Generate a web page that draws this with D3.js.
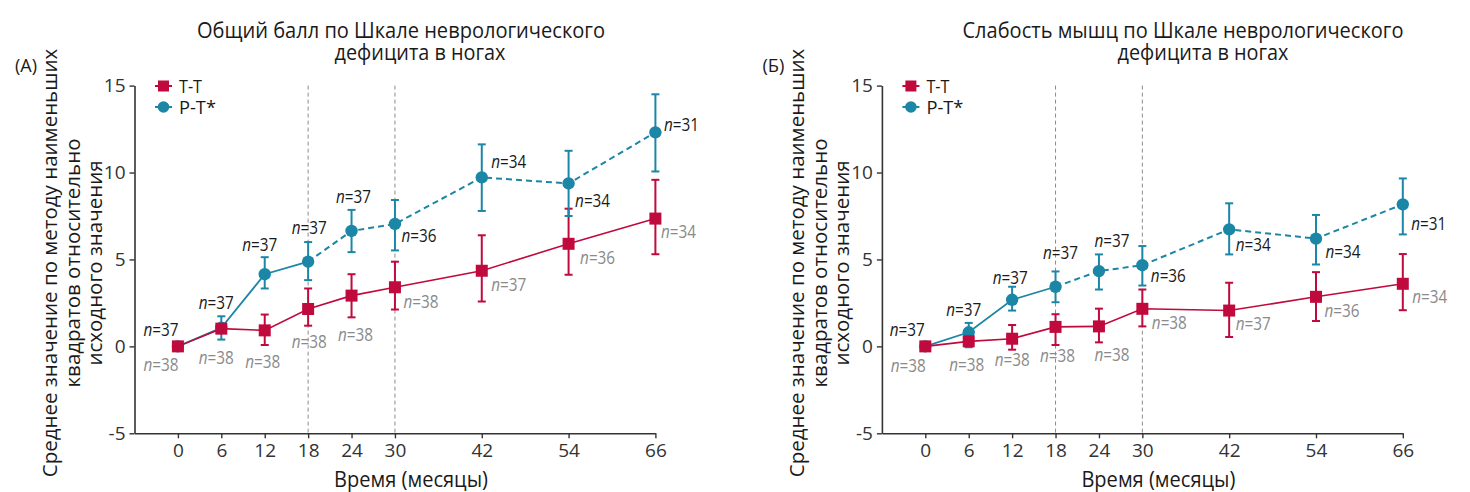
<!DOCTYPE html>
<html><head><meta charset="utf-8">
<script src="https://cdn.jsdelivr.net/npm/d3@7"></script>
<style>body{margin:0;background:#fff} svg{display:block}</style>
</head><body>
<svg id="chart" width="1470" height="492"></svg>
<script>
// ---------------- DATA ----------------
const months = [0, 6, 12, 18, 24, 30, 42, 54, 66];
const xTickValues = [0, 6, 12, 18, 24, 30, 42, 54, 66];
const yTickValues = [-5, 0, 5, 10, 15];
const phaseLines = [18, 30];
const seriesNames = ["T-T", "P-T*"];

// Panel A: Общий балл
const ttA    = [0, 1.02, 0.92, 2.15, 2.92, 3.40, 4.35, 5.90, 7.35];
const ttA_lo = [null, null, 0.08, 1.19, 1.67, 2.12, 2.58, 4.12, 5.30];
const ttA_hi = [null, null, 1.83, 3.33, 4.15, 4.87, 6.39, 7.92, 9.58];
const ptA    = [0, 1.07, 4.15, 4.87, 6.64, 7.04, 9.72, 9.37, 12.31];
const ptA_lo = [null, 0.39, 3.33, 3.81, 5.42, 5.52, 7.79, 7.50, 10.06];
const ptA_hi = [null, 1.73, 5.13, 6.00, 7.85, 8.42, 11.62, 11.25, 14.50];
const nTTA   = [38, 38, 38, 38, 38, 38, 37, 36, 34];
const nPTA   = [37, 37, 37, 37, 37, 36, 34, 34, 31];

// Panel Б: Слабость мышц
const ttB    = [0, 0.29, 0.44, 1.12, 1.15, 2.16, 2.06, 2.85, 3.60];
const ttB_lo = [null, null, -0.19, 0.08, 0.23, 1.15, 0.54, 1.46, 2.08];
const ttB_hi = [null, null, 1.23, 1.85, 2.17, 3.27, 3.66, 4.27, 5.31];
const ptB    = [0, 0.81, 2.68, 3.43, 4.33, 4.67, 6.73, 6.20, 8.17];
const ptB_lo = [null, -0.05, 2.06, 2.54, 3.27, 3.50, 5.29, 4.71, 6.44];
const ptB_hi = [null, 1.35, 3.43, 4.31, 5.29, 5.77, 8.23, 7.56, 9.66];
const nTTB   = [38, 38, 38, 38, 38, 38, 37, 36, 34];
const nPTB   = [37, 37, 37, 37, 37, 36, 34, 34, 31];

const titleA = ["Общий балл по Шкале неврологического", "дефицита в ногах"];
const titleB = ["Слабость мышц по Шкале неврологического", "дефицита в ногах"];
const yTitle = ["Среднее значение по методу наименьших", "квадратов относительно", "исходного значения"];
const xTitle = "Время (месяцы)";

// ---------------- LAYOUT (label offsets in px, not data) ----------------
const offTTA = [[-17,18],[-5,28],[-2,31],[1,32],[4,38],[26,14],[27,13],[29,13],[23,12]];
const offPTA = [[-17,-17],[-5,-26],[-5,-30],[1,-35],[2,-35],[24,11],[27,-16],[24,17],[26,-8]];
const offTTB = [[-17,19],[-2,23],[0,20],[2,28],[13,28],[27,13],[24,12],[26,13],[27,12]];
const offPTB = [[-18,-17],[-5,-23],[-2,-23],[5,-35],[13,-31],[26,10],[24,15],[27,12],[26,19]];

const FONT = "'Open Sans','Noto Sans',sans-serif";
const RED = "#c0093d", TEAL = "#1b86a6", AXIS = "#333";

const panels = [
  {label: "(А)", title: titleA, titleX: [401, 420], titleW: [408, 171], ox: 0,
   tt: ttA, ttLo: ttA_lo, ttHi: ttA_hi, pt: ptA, ptLo: ptA_lo, ptHi: ptA_hi,
   nTT: nTTA, nPT: nPTA, offTT: offTTA, offPT: offPTA},
  {label: "(Б)", title: titleB, titleX: [1183, 1203], titleW: [441, 171], ox: 747.4,
   tt: ttB, ttLo: ttB_lo, ttHi: ttB_hi, pt: ptB, ptLo: ptB_lo, ptHi: ptB_hi,
   nTT: nTTB, nPT: nPTB, offTT: offTTB, offPT: offPTB}
];

const svg = d3.select("#chart").style("font-family", FONT);

panels.forEach(P => {
  const g = svg.append("g");
  const x = d3.scaleLinear().domain([-6, 66]).range([134.5 + P.ox, 655.4 + P.ox]);
  const y = d3.scaleLinear().domain([-5, 15]).range([433.3, 85.6]);

  // titles
  P.title.forEach((t, i) => {
    g.append("text").attr("x", P.titleX[i]).attr("y", i === 0 ? 37.5 : 59.5)
      .attr("text-anchor", "middle").attr("font-size", 21.5).attr("fill", "#1a1a1a")
      .attr("textLength", P.titleW[i]).attr("lengthAdjust", "spacingAndGlyphs").text(t);
  });
  // panel label
  g.append("text").attr("x", 26 + P.ox).attr("y", 72).attr("text-anchor", "middle")
    .attr("font-size", 19).attr("fill", "#1a1a1a").attr("textLength", 22)
    .attr("lengthAdjust", "spacingAndGlyphs").text(P.label);

  // y title
  const ytx = [56.7, 79.5, 101.5];
  yTitle.forEach((t, i) => {
    g.append("text").attr("transform", `translate(${ytx[i] + P.ox},263) rotate(-90)`)
      .attr("text-anchor", "middle").attr("font-size", 20.5).attr("fill", "#1a1a1a").text(t);
  });
  // x title
  g.append("text").attr("x", 411 + P.ox).attr("y", 487).attr("text-anchor", "middle")
    .attr("font-size", 21).attr("fill", "#1a1a1a").attr("textLength", 154)
    .attr("lengthAdjust", "spacingAndGlyphs").text(xTitle);

  // phase dashed lines
  g.selectAll(".phase").data(phaseLines).join("line")
    .attr("x1", d => x(d)).attr("x2", d => x(d)).attr("y1", y(15)).attr("y2", y(-5))
    .attr("stroke", "#8c8c8c").attr("stroke-width", 1).attr("stroke-dasharray", "4,3");

  // axes
  const ya = g.append("g").attr("transform", `translate(${x(-6)},0)`)
    .call(d3.axisLeft(y).tickValues(yTickValues).tickSize(5).tickSizeOuter(0).tickPadding(4).tickFormat(d => String(d)));
  const xa = g.append("g").attr("transform", `translate(0,${y(-5)})`)
    .call(d3.axisBottom(x).tickValues(xTickValues).tickSize(5).tickSizeOuter(0).tickPadding(5).tickFormat(d => String(d)));
  [ya, xa].forEach(a => {
    a.select(".domain").attr("stroke", AXIS).attr("stroke-width", 1.6);
    a.selectAll(".tick line").attr("stroke", AXIS).attr("stroke-width", 1.4);
    a.selectAll(".tick text").attr("font-size", 19).attr("fill", AXIS).attr("font-family", FONT);
  });

  const ttPts = months.map((m, i) => ({m, v: P.tt[i], lo: P.ttLo[i], hi: P.ttHi[i], n: P.nTT[i], off: P.offTT[i]}));
  const ptPts = months.map((m, i) => ({m, v: P.pt[i], lo: P.ptLo[i], hi: P.ptHi[i], n: P.nPT[i], off: P.offPT[i]}));
  const line = d3.line().x(d => x(d.m)).y(d => y(d.v));

  // teal line: solid to 18, dashed after
  g.append("path").datum(ptPts.filter(d => d.m <= 18)).attr("d", line)
    .attr("fill", "none").attr("stroke", TEAL).attr("stroke-width", 1.8);
  g.append("path").datum(ptPts.filter(d => d.m >= 18)).attr("d", line)
    .attr("fill", "none").attr("stroke", TEAL).attr("stroke-width", 2).attr("stroke-dasharray", "6,4");
  // red line
  g.append("path").datum(ttPts).attr("d", line)
    .attr("fill", "none").attr("stroke", RED).attr("stroke-width", 1.6);

  function errBars(pts, color) {
    const eg = g.append("g").attr("stroke", color).attr("stroke-width", 2);
    const e = pts.filter(d => d.lo != null);
    eg.selectAll(".v").data(e).join("line").attr("x1", d => x(d.m)).attr("x2", d => x(d.m))
      .attr("y1", d => y(d.lo)).attr("y2", d => y(d.hi));
    eg.selectAll(".t").data(e).join("line").attr("x1", d => x(d.m) - 4).attr("x2", d => x(d.m) + 4)
      .attr("y1", d => y(d.hi)).attr("y2", d => y(d.hi));
    eg.selectAll(".b").data(e).join("line").attr("x1", d => x(d.m) - 4).attr("x2", d => x(d.m) + 4)
      .attr("y1", d => y(d.lo)).attr("y2", d => y(d.lo));
  }
  errBars(ttPts, RED);
  errBars(ptPts, TEAL);

  g.selectAll(".circ").data(ptPts).join("circle")
    .attr("cx", d => x(d.m)).attr("cy", d => y(d.v)).attr("r", 6.2).attr("fill", TEAL);
  g.selectAll(".sq").data(ttPts).join("rect")
    .attr("x", d => x(d.m) - 6).attr("y", d => y(d.v) - 6).attr("width", 12).attr("height", 12).attr("fill", RED);

  function nLabels(pts, color) {
    const t = g.selectAll(null).data(pts).join("text")
      .attr("x", d => x(d.m) + d.off[0]).attr("y", d => y(d.v) + d.off[1])
      .attr("text-anchor", "middle").attr("dominant-baseline", "central")
      .attr("font-size", 18).attr("fill", color)
      .attr("textLength", 35).attr("lengthAdjust", "spacingAndGlyphs");
    t.append("tspan").attr("font-style", "italic").text("n");
    t.append("tspan").text(d => "=" + d.n);
  }
  nLabels(ptPts, "#1a1a1a");
  nLabels(ttPts, "#8a8a8a");

  // legend
  const lx = 163.5 + P.ox;
  const leg = [{name: seriesNames[0], color: RED, yy: 86, shape: "sq"},
               {name: seriesNames[1], color: TEAL, yy: 107, shape: "c"}];
  leg.forEach(L => {
    g.append("line").attr("x1", lx - 8.5).attr("x2", lx + 8.5).attr("y1", L.yy).attr("y2", L.yy)
      .attr("stroke", L.color).attr("stroke-width", 2);
    if (L.shape === "sq") g.append("rect").attr("x", lx - 5.5).attr("y", L.yy - 5.5).attr("width", 11).attr("height", 11).attr("fill", L.color);
    else g.append("circle").attr("cx", lx).attr("cy", L.yy).attr("r", 5.8).attr("fill", L.color);
    g.append("text").attr("x", 179 + P.ox).attr("y", L.yy).attr("dominant-baseline", "central")
      .attr("font-size", 17.5).attr("fill", "#1a1a1a")
      .attr("textLength", L.shape === "sq" ? 23 : 37).attr("lengthAdjust", "spacingAndGlyphs").text(L.name);
  });
});
</script>
</body></html>
